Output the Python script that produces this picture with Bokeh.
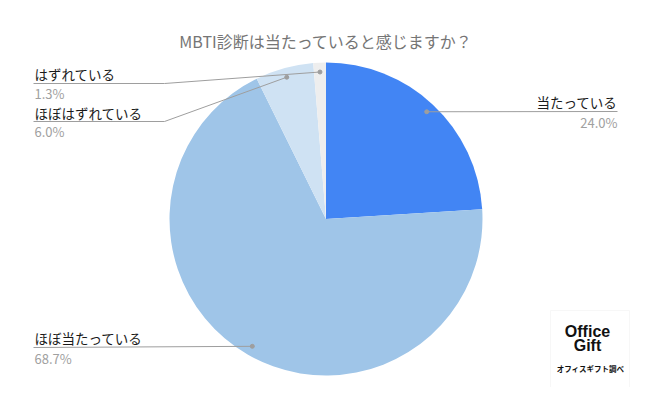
import numpy as np
from bokeh.plotting import figure
from bokeh.models import Range1d, ColumnDataSource
from bokeh.core.properties import value
from bokeh.embed import file_html
from bokeh.resources import INLINE

title = "MBTI診断は当たっていると感じますか？"
categories = ["当たっている", "ほぼ当たっている", "ほぼはずれている", "はずれている"]
shares = [24.0, 68.7, 6.0, 1.3]
colors = ["#4285F4", "#9FC5E8", "#CFE2F3", "#EEEEEE"]
pct_labels = ["24.0%", "68.7%", "6.0%", "1.3%"]

W, H = 634, 387
FONT = "Noto Sans CJK JP"

def sy(y):  # screenshot y -> data y
    return H - y

def sx(x):
    return x

p = figure(width=W, height=H, output_backend="svg", toolbar_location=None,
           x_range=Range1d(0, W), y_range=Range1d(0, H), min_border=0,
           background_fill_color="white", border_fill_color="white")
p.axis.visible = False
p.grid.visible = False
p.outline_line_color = None

cx, cy, r = sx(325.5), sy(218.5), 156.5
vals = np.array(shares)
frac = vals / vals.sum()
cum = np.concatenate([[0], np.cumsum(frac)])
start = np.pi / 2 - cum[1:] * 2 * np.pi
end = np.pi / 2 - cum[:-1] * 2 * np.pi
mid = (start + end) / 2
src = ColumnDataSource(dict(start=start, end=end, color=colors, cat=categories))
p.wedge(x=cx, y=cy, radius=r, start_angle="start", end_angle="end",
        fill_color="color", line_color=None, source=src)

# anchor dots
dx = cx + 0.94 * r * np.cos(mid)
dy = cy + 0.94 * r * np.sin(mid)
p.scatter(dx, dy, size=4, color="#9E9E9E")

LC = "#9E9E9E"
layout = {
    0: dict(tx=617, align="right", ty=101, ly=111, py=122, ex=617),
    1: dict(tx=34, align="left", ty=337.5, ly=347, py=358, ex=33),
    2: dict(tx=34, align="left", ty=112, ly=121, py=131, ex=33),
    3: dict(tx=34, align="left", ty=73, ly=83, py=92.5, ex=33),
}
for i in range(4):
    L = layout[i]
    if i in (0, 1):
        xs = [sx(L["ex"]), dx[i]]
        ys = [sy(L["ly"]), dy[i]]
    else:
        xs = [sx(L["ex"]), sx(164), dx[i]]
        ys = [sy(L["ly"]), sy(L["ly"]), dy[i]]
    p.line(xs, ys, line_color=LC, line_width=1)
    p.text(x=[sx(L["tx"])], y=[sy(L["ty"])], text=[categories[i]],
           text_font=value(FONT), text_font_size="13.5px", text_color="#1A1A1A",
           text_align=L["align"], text_baseline="middle")
    p.text(x=[sx(L["tx"])], y=[sy(L["py"])], text=[pct_labels[i]],
           text_font=value(FONT), text_font_size="13px", text_color="#A0A0A0",
           text_align=L["align"], text_baseline="middle")

# title
p.text(x=[sx(325.5)], y=[sy(40)], text=[title], text_font=value(FONT),
       text_font_size="16px", text_color="#757575", text_align="center",
       text_baseline="middle")

# logo
p.rect(x=[sx(589.5)], y=[sy(349)], width=79, height=78, fill_color="white",
       line_color="#F7F7F7", line_width=1)
p.text(x=[sx(587)], y=[sy(331)], text=["Office"], text_font=value("Liberation Sans"),
       text_font_size="16px", text_font_style="bold", text_color="#111111",
       text_align="center", text_baseline="middle")
p.text(x=[sx(587)], y=[sy(345)], text=["Gift"], text_font=value("Liberation Sans"),
       text_font_size="16px", text_font_style="bold", text_color="#111111",
       text_align="center", text_baseline="middle")
p.text(x=[sx(590)], y=[sy(368)], text=["オフィスギフト調べ"], text_font=value(FONT),
       text_font_size="7.5px", text_font_style="bold", text_color="#111111",
       text_align="center", text_baseline="middle")

open("out.html", "w").write(file_html(p, INLINE))
